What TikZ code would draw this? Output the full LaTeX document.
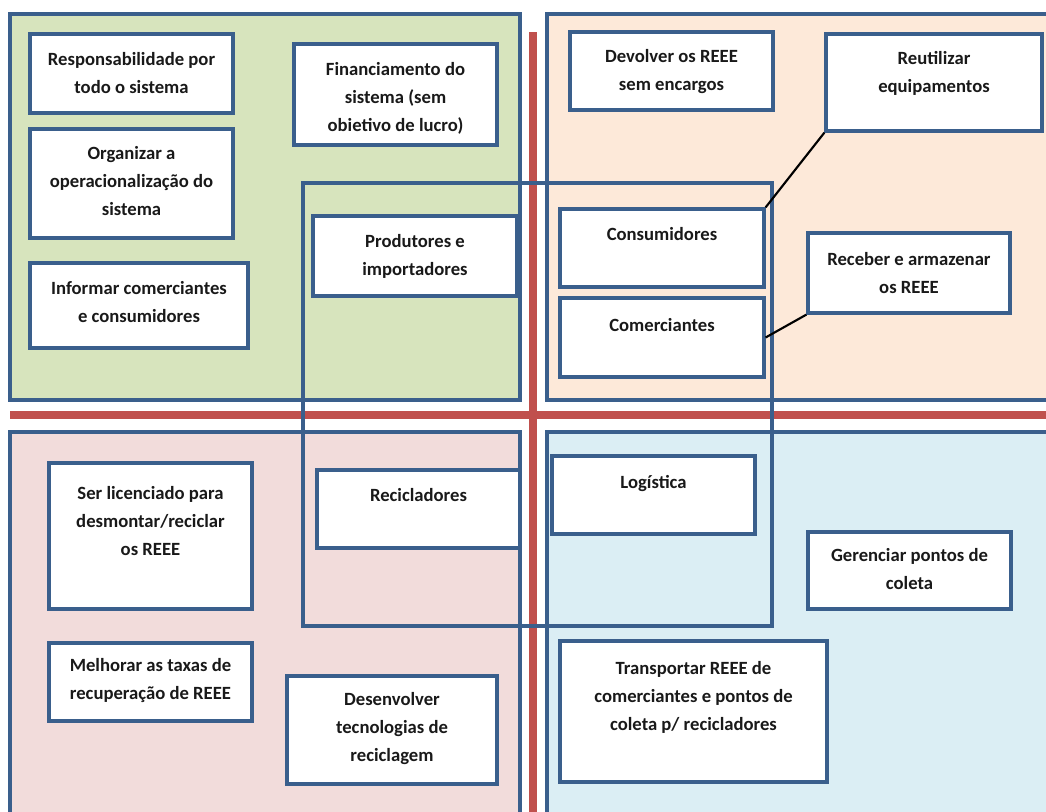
\documentclass[tikz,border=0pt]{standalone}
\usepackage{fontspec}
\setmainfont{Carlito}
\usetikzlibrary{fit,calc}
\definecolor{bord}{HTML}{3A5F8C}
\definecolor{greenf}{HTML}{D7E4BD}
\definecolor{orangef}{HTML}{FDE9D9}
\definecolor{pinkf}{HTML}{F2DCDB}
\definecolor{bluef}{HTML}{DBEEF4}
\definecolor{redl}{HTML}{C0504D}
\begin{document}
\begin{tikzpicture}[x=0.75pt,y=-0.75pt,
  panel/.style={draw=bord, line width=2.3pt, inner sep=0pt},
  box/.style={draw=bord, fill=white, line width=2.4pt, inner sep=0pt},
  grp/.style={draw=bord, line width=2.3pt, inner sep=0pt},
  lbl/.style={font=\bfseries\fontsize{14}{21}\selectfont, align=center, anchor=north, inner sep=0pt, text=black!90,
    execute at begin node={\rule{0pt}{11pt}}},
  conn/.style={draw=black, line width=1.6pt},
  redline/.style={draw=redl, line width=6pt}]
\useasboundingbox (0,0) rectangle (1046,811);
\clip (0,0) rectangle (1046,811);
% quadrants
\node[panel, fill=greenf, fit={(10,14) (520,400)}] (pg) {};
\node[panel, fill=orangef, fit={(547,14) (1070,400)}] (po) {};
\node[panel, fill=pinkf, fit={(10,432) (520,840)}] (pp) {};
\node[panel, fill=bluef, fit={(547,432) (1070,840)}] (pb) {};
% red axes
\coordinate (vt) at (533,32); \coordinate (vb) at (533,840);
\coordinate (hl) at (10,415); \coordinate (hr) at (1070,415);
\draw[redline] (vt) -- (vb);
\draw[redline] (hl) -- (hr);
% central group
\node[grp, fit={(303,183) (772,626)}] (cg) {};
% boxes
\node[box, fit={(30,34) (233,113)}] (resp) {};
\node[box, fit={(30,129) (233,238)}] (orga) {};
\node[box, fit={(30,263) (248,348)}] (info) {};
\node[box, fit={(294,44) (497,145)}] (fina) {};
\node[box, fit={(313,216) (517,296)}] (prod) {};
\node[box, fit={(570,32) (773,110)}] (devo) {};
\node[box, fit={(826,34) (1042,131)}] (reut) {};
\node[box, fit={(560,209) (764,287)}] (cons) {};
\node[box, fit={(560,298) (764,377)}] (come) {};
\node[box, fit={(808,233) (1010,313)}] (rece) {};
\node[box, fit={(49,463) (252,609)}] (lice) {};
\node[box, fit={(317,470) (520,548)}] (reci) {};
\node[box, fit={(49,643) (252,721)}] (melh) {};
\node[box, fit={(287,676) (497,784)}] (dese) {};
\node[box, fit={(552,456) (755,534)}] (logi) {};
\node[box, fit={(808,532) (1011,609)}] (gere) {};
\node[box, fit={(560,641) (827,782)}] (tran) {};
% texts
\node[lbl] (resp-t) at ($(resp.north)+(0,20)$) {Responsabilidade por\\todo o sistema};
\node[lbl] (orga-t) at ($(orga.north)+(0,19)$) {Organizar a\\operacionalização do\\sistema};
\node[lbl] (info-t) at ($(info.north)+(0,20)$) {Informar comerciantes\\e consumidores};
\node[lbl] (fina-t) at ($(fina.north)+(0,20)$) {Financiamento do\\sistema (sem\\obietivo de lucro)};
\node[lbl] (prod-t) at ($(prod.north)+(0,20)$) {Produtores e\\importadores};
\node[lbl] (devo-t) at ($(devo.north)+(0,19)$) {Devolver os REEE\\sem encargos};
\node[lbl] (reut-t) at ($(reut.north)+(0,19)$) {Reutilizar\\equipamentos};
\node[lbl] (cons-t) at ($(cons.north)+(0,18)$) {Consumidores};
\node[lbl] (come-t) at ($(come.north)+(0,20)$) {Comerciantes};
\node[lbl] (rece-t) at ($(rece.north)+(0,21)$) {Receber e armazenar\\os REEE};
\node[lbl] (lice-t) at ($(lice.north)+(0,25)$) {Ser licenciado para\\desmontar/reciclar\\os REEE};
\node[lbl] (reci-t) at ($(reci.north)+(0,18)$) {Recicladores};
\node[lbl] (melh-t) at ($(melh.north)+(0,17)$) {Melhorar as taxas de\\recuperação de REEE};
\node[lbl] (dese-t) at ($(dese.north)+(0,18)$) {Desenvolver\\tecnologias de\\reciclagem};
\node[lbl] (logi-t) at ($(logi.north)+(0,19)$) {Logística};
\node[lbl] (gere-t) at ($(gere.north)+(0,18)$) {Gerenciar pontos de\\coleta};
\node[lbl] (tran-t) at ($(tran.north)+(0,22)$) {Transportar REEE de\\comerciantes e pontos de\\coleta p/ recicladores};
% connectors
\draw[conn] (cons.north east) -- (reut.south west);
\draw[conn] (come.east) -- (rece.south west);
\end{tikzpicture}
\end{document}
